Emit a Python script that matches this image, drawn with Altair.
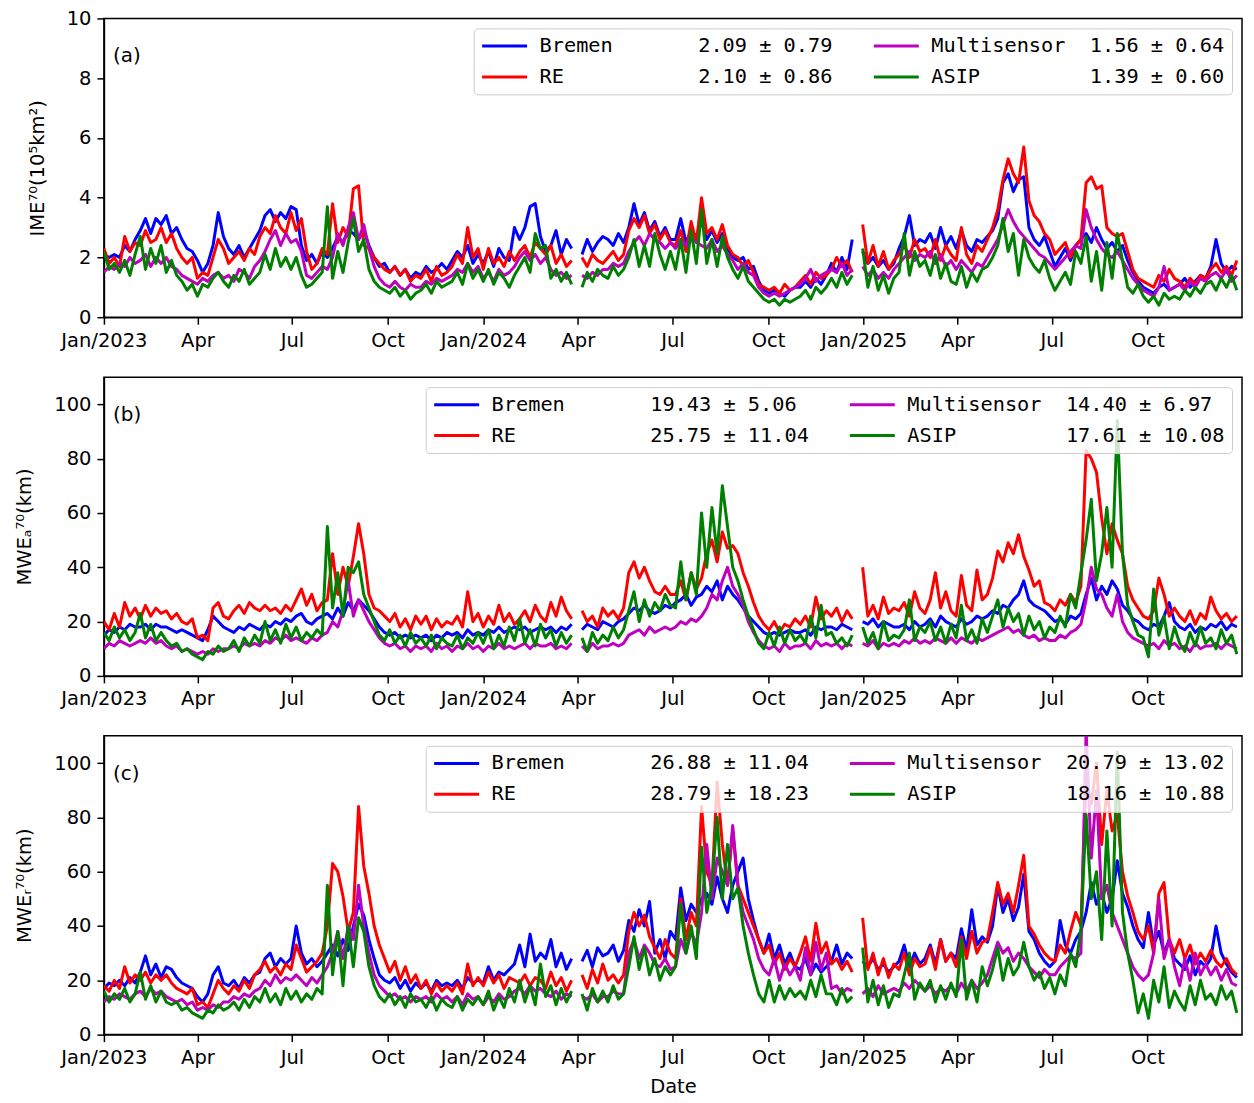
import altair as alt
import pandas as pd

# Series in plotting order (later ones drawn on top); the legend fills column by column
NAMES = ["Bremen", "RE", "Multisensor", "ASIP"]
COLORS = ["#0000ff", "#ff0000", "#bf00bf", "#008000"]

START = "2023-01-01"
STEP = "5D"
X_TICKS = [(2023, 1), (2023, 4), (2023, 7), (2023, 10),
           (2024, 1), (2024, 4), (2024, 7), (2024, 10),
           (2025, 1), (2025, 4), (2025, 7), (2025, 10)]
X_START = (2023, 1, 1)
X_END = (2025, 12, 31)
IME_TICKS = [0, 2, 4, 6, 8, 10]
MWE_TICKS = [0, 20, 40, 60, 80, 100]

# ---------------- IME^70 (10^5 km^2) ----------------
IME_BREMEN = [
    2.1, 2.0, 2.1, 2.0, 2.4, 2.2, 2.6, 2.9, 3.3, 2.8, 3.3, 3.1,
    3.4, 2.8, 3.0, 2.6, 2.3, 2.2, 1.9, 1.5, 1.8, 2.4, 3.5, 2.7,
    2.3, 2.1, 2.4, 2.0, 2.3, 2.6, 2.9, 3.4, 3.6, 3.2, 3.5, 3.3, 3.7,
    3.6, 2.4, 1.9, 2.1, 1.8, 2.2, 2.0, 2.3, 2.7, 2.5, 2.9, 2.8,
    2.6, 2.9, 2.4, 2.0, 1.7, 1.8, 1.5, 1.7, 1.4, 1.6, 1.3, 1.5,
    1.4, 1.7, 1.5, 1.6, 1.8, 1.6, 1.9, 2.2, 2.0, 2.4, 1.8, 2.1,
    1.8, 2.2, 1.7, 2.3, 2.0, 1.9, 3.0, 2.6, 3.0, 3.7, 3.8, 2.7,
    2.2, 2.4, 2.9, 2.1, 2.6, 2.3, None, 2.1, 2.6, 2.2, 2.5, 2.7,
    2.6, 2.4, 2.8, 2.5, 3.0, 3.8, 3.1, 3.5, 2.9, 3.2, 2.7, 3.0, 2.6,
    2.6, 3.3, 2.5, 2.9, 2.7, 3.2, 2.6, 2.9, 2.5, 2.8, 2.3, 2.0,
    1.9, 2.0, 1.6, 1.7, 1.2, 0.9, 0.8, 0.9, 0.8, 0.7, 0.9, 1.0,
    1.0, 1.2, 1.0, 1.3, 1.1, 1.4, 1.8, 1.5, 2.0, 1.6, 2.6, None,
    2.2, 1.8, 2.0, 1.7, 1.9, 1.6, 1.8, 2.3, 2.7, 3.4, 2.4, 2.6,
    2.5, 2.8, 2.3, 3.0, 2.4, 2.7, 2.3, 2.9, 2.4, 2.2, 2.6, 2.5,
    2.7, 2.9, 3.3, 4.5, 4.8, 4.2, 4.6, 4.7, 3.0, 2.6, 2.4, 2.7, 2.2,
    1.7, 2.0, 2.3, 1.9, 2.4, 2.6, 2.8, 2.5, 3.0, 2.6, 2.3, 2.5,
    2.2, 2.4, 1.9, 1.5, 1.2, 1.0, 0.9, 0.8, 1.0, 1.1, 0.9, 1.0,
    1.1, 1.3, 1.0, 1.2, 1.4, 1.3, 1.7, 2.6, 1.8, 1.5, 1.7, 1.6,
]
IME_RE = [
    2.3, 1.8, 2.0, 1.7, 2.7, 2.2, 2.5, 2.4, 2.9, 2.5, 2.6, 3.0,
    2.5, 2.8, 2.3, 2.0, 1.8, 2.0, 1.3, 1.5, 1.4, 2.0, 2.6, 2.3,
    1.8, 2.0, 2.2, 1.9, 2.3, 2.1, 2.7, 3.0, 2.8, 3.4, 3.0, 2.8, 3.5,
    2.9, 3.3, 2.2, 1.6, 1.8, 2.3, 2.1, 3.8, 2.5, 3.0, 2.7, 4.3,
    4.4, 2.4, 2.3, 2.0, 1.8, 1.6, 1.5, 1.7, 1.4, 1.6, 1.2, 1.4,
    1.3, 1.6, 1.2, 1.7, 1.4, 1.5, 1.7, 2.1, 1.8, 3.0, 2.0, 2.3,
    1.6, 2.3, 1.8, 2.0, 1.7, 2.2, 1.9, 2.2, 2.4, 2.0, 2.5, 2.3,
    2.1, 2.4, 1.8, 2.1, 1.7, 1.9, None, 2.0, 1.7, 2.1, 1.9, 1.8,
    2.0, 2.2, 1.9, 2.1, 2.9, 3.3, 3.0, 3.4, 2.8, 3.1, 2.6, 2.9, 2.5,
    2.4, 2.9, 2.2, 3.2, 2.5, 4.0, 2.8, 3.0, 2.6, 3.1, 2.4, 2.1,
    2.0, 1.7, 1.9, 1.5, 1.1, 1.0, 0.9, 1.0, 0.8, 1.1, 0.9, 1.0,
    1.2, 1.4, 1.1, 1.5, 1.3, 1.4, 1.6, 2.0, 1.7, 1.9, 1.5, None,
    3.1, 1.8, 2.4, 1.7, 2.2, 1.6, 1.9, 2.1, 2.4, 2.0, 2.6, 2.2,
    2.3, 2.0, 2.6, 1.9, 2.4, 2.1, 1.9, 3.0, 2.1, 1.8, 2.4, 2.2,
    2.6, 3.0, 3.6, 4.6, 5.3, 4.8, 4.5, 5.7, 3.9, 3.4, 3.2, 2.8, 2.6,
    2.1, 2.3, 2.5, 2.0, 2.4, 2.6, 4.5, 4.7, 4.3, 4.4, 3.0, 2.8,
    2.7, 2.8, 2.2, 1.6, 1.3, 1.2, 1.1, 1.0, 1.4, 1.2, 1.6, 1.3,
    1.2, 1.0, 1.3, 1.1, 1.4, 1.3, 1.6, 1.8, 1.5, 1.7, 1.4, 1.9,
]
IME_MULTI = [
    1.5, 1.7, 1.6, 1.8, 1.7, 2.0, 1.8, 1.9, 2.1, 1.7, 2.0, 1.8,
    2.0, 1.7, 1.6, 1.4, 1.3, 1.2, 1.1, 1.3, 1.2, 1.4, 1.5, 1.3,
    1.4, 1.2, 1.6, 1.5, 1.3, 1.7, 1.9, 2.2, 2.6, 2.9, 2.4, 2.8, 2.5,
    2.6, 2.2, 1.4, 1.3, 1.5, 1.7, 1.6, 2.0, 2.8, 2.4, 3.0, 3.5,
    2.6, 3.1, 2.3, 1.7, 1.3, 1.1, 1.0, 1.2, 1.0, 0.9, 1.1, 1.0,
    1.0, 1.2, 1.1, 1.3, 1.2, 1.3, 1.4, 1.6, 1.5, 1.8, 1.5, 1.7,
    1.3, 1.5, 1.2, 1.6, 1.4, 1.5, 1.7, 2.0, 2.2, 1.9, 2.1, 1.8,
    2.0, 1.6, 1.4, 1.5, 1.3, 1.4, None, 1.4, 1.3, 1.5, 1.4, 1.6,
    1.6, 1.8, 1.7, 1.8, 2.2, 2.5, 2.7, 2.4, 2.8, 2.6, 2.5, 2.3, 2.5,
    2.3, 2.6, 2.4, 2.7, 2.5, 2.4, 2.3, 2.6, 2.2, 2.4, 2.1, 1.9,
    1.6, 1.8, 1.5, 1.4, 1.0, 0.8, 0.7, 0.8, 0.7, 0.8, 0.9, 1.0,
    1.1, 1.3, 1.6, 1.2, 1.4, 1.5, 1.6, 1.5, 1.8, 1.4, 1.6, None,
    1.7, 1.4, 1.6, 1.3, 1.5, 1.3, 1.6, 1.8, 2.0, 2.2, 1.9, 2.1,
    2.0, 2.2, 1.8, 2.1, 1.7, 1.9, 1.6, 1.9, 1.7, 1.5, 1.8, 1.7,
    2.0, 2.3, 2.6, 3.1, 3.6, 3.2, 2.9, 2.7, 2.5, 2.3, 2.1, 2.0, 1.8,
    1.6, 1.8, 2.0, 2.2, 2.4, 2.3, 3.6, 3.0, 2.6, 2.3, 2.1, 2.0,
    2.2, 1.9, 1.6, 1.3, 1.1, 0.9, 0.8, 0.7, 1.0, 1.7, 0.9, 1.0,
    1.1, 0.9, 1.2, 1.0, 1.3, 1.2, 1.4, 1.5, 1.3, 1.6, 1.2, 1.4,
]
IME_ASIP = [
    2.2, 1.6, 1.8, 1.5, 1.9, 1.4, 2.1, 2.7, 1.6, 2.3, 1.8, 2.4,
    1.5, 1.9, 1.4, 1.2, 0.9, 1.1, 0.7, 1.1, 1.0, 1.3, 1.5, 1.2,
    1.0, 1.4, 1.2, 1.6, 1.1, 1.3, 1.5, 2.1, 1.6, 2.3, 1.7, 2.0, 1.6,
    2.0, 1.4, 1.0, 1.1, 1.3, 1.5, 3.7, 1.3, 2.2, 1.5, 2.5, 3.3,
    2.2, 2.6, 1.6, 1.2, 1.0, 0.9, 0.8, 1.0, 0.7, 0.9, 0.6, 0.8,
    0.9, 1.1, 0.8, 1.2, 1.0, 1.1, 1.2, 1.5, 1.1, 1.8, 1.3, 1.6,
    1.2, 1.6, 1.1, 1.5, 1.3, 1.0, 1.4, 1.7, 2.0, 1.5, 2.8, 2.3,
    2.4, 1.3, 1.6, 1.2, 1.5, 1.1, None, 1.0, 1.5, 1.2, 1.6, 1.4,
    1.3, 1.7, 1.4, 1.6, 2.0, 2.6, 1.7, 2.4, 1.7, 2.8, 2.1, 1.6, 2.2,
    1.6, 2.6, 1.5, 2.9, 1.8, 3.6, 1.8, 2.6, 1.7, 2.7, 2.0, 1.6,
    1.3, 1.7, 1.2, 1.0, 0.8, 0.6, 0.5, 0.6, 0.4, 0.6, 0.5, 0.6,
    0.7, 0.9, 0.6, 1.0, 0.8, 1.0, 1.3, 1.0, 1.5, 1.1, 1.4, None,
    2.3, 1.0, 1.7, 0.9, 1.4, 0.8, 1.3, 1.5, 2.8, 1.4, 2.2, 1.7,
    1.9, 1.4, 2.1, 1.3, 1.8, 1.2, 1.1, 1.7, 1.0, 1.5, 1.2, 1.6,
    1.7, 2.0, 2.4, 3.3, 2.2, 2.8, 1.4, 2.6, 2.0, 1.7, 1.5, 1.9, 1.3,
    0.9, 1.2, 1.5, 1.1, 2.2, 1.8, 2.7, 1.2, 2.2, 0.9, 2.5, 1.3,
    2.8, 1.9, 1.0, 0.8, 1.1, 0.7, 0.5, 0.7, 0.4, 0.8, 0.6, 0.7,
    0.6, 0.9, 0.7, 1.0, 0.8, 1.1, 1.2, 0.9, 1.3, 1.0, 1.4, 0.9,
]
IME_MEAN = [2.09, 2.10, 1.56, 1.39]
IME_STD = [0.79, 0.86, 0.64, 0.60]

# ---------------- MWE_a^70 (km) ----------------
MWEA_BREMEN = [
    15, 17, 16, 18, 17, 19, 18, 18, 19, 17, 19, 18,
    18, 17, 16, 17, 16, 15, 14, 13, 17, 22, 20, 18,
    17, 16, 18, 17, 19, 18, 17, 19, 18, 20, 19, 21, 20,
    22, 23, 20, 19, 21, 22, 23, 21, 25, 22, 27, 24,
    28, 26, 24, 21, 18, 16, 15, 16, 14, 15, 14, 15,
    14, 15, 13, 15, 14, 16, 15, 16, 14, 17, 15, 16,
    15, 17, 16, 18, 16, 17, 18, 17, 18, 16, 17, 18,
    17, 18, 16, 18, 17, 19, None, 17, 19, 18, 17, 20,
    19, 18, 20, 21, 23, 25, 24, 26, 24, 23, 24, 26, 25,
    27, 28, 30, 26, 29, 30, 33, 31, 35, 28, 33, 30,
    28, 25, 22, 20, 18, 16, 15, 16, 15, 16, 17, 16,
    16, 17, 15, 18, 17, 18, 18, 17, 19, 18, 17, None,
    20, 19, 21, 18, 20, 19, 18, 18, 19, 17, 20, 18,
    19, 21, 18, 22, 20, 19, 18, 21, 19, 20, 22, 21,
    22, 24, 23, 26, 25, 28, 30, 35, 28, 26, 25, 24, 22,
    20, 21, 19, 22, 21, 23, 30, 36, 28, 33, 30, 35,
    32, 26, 24, 21, 20, 18, 17, 19, 18, 22, 27, 20,
    18, 17, 19, 16, 18, 17, 19, 18, 20, 17, 19, 18,
]
MWEA_RE = [
    20, 17, 23, 18, 27, 22, 25, 21, 26, 22, 25, 23,
    24, 21, 23, 20, 19, 21, 14, 15, 13, 25, 27, 22,
    21, 24, 26, 23, 27, 25, 24, 26, 24, 25, 23, 26, 24,
    28, 32, 26, 30, 24, 27, 28, 45, 30, 40, 33, 44,
    56, 45, 30, 25, 24, 22, 20, 23, 18, 21, 17, 22,
    19, 22, 17, 21, 18, 20, 19, 22, 18, 31, 20, 23,
    18, 22, 19, 26, 20, 23, 19, 21, 24, 20, 26, 22,
    20, 27, 22, 29, 24, 21, None, 24, 20, 22, 18, 25,
    22, 24, 21, 25, 38, 42, 36, 40, 35, 31, 30, 33, 30,
    30, 35, 28, 38, 32, 36, 45, 50, 42, 53, 47, 48,
    45, 38, 33, 27, 22, 19, 17, 20, 16, 19, 18, 21,
    19, 22, 18, 29, 21, 24, 22, 25, 20, 24, 21, None,
    40, 22, 26, 21, 29, 23, 25, 24, 27, 22, 31, 25,
    23, 28, 38, 25, 31, 24, 22, 37, 26, 24, 39, 28,
    30, 36, 46, 42, 49, 45, 52, 44, 39, 33, 35, 27, 26,
    24, 28, 26, 30, 27, 33, 83, 80, 75, 58, 45, 56,
    50, 45, 33, 28, 25, 22, 21, 24, 36, 30, 22, 25,
    22, 20, 24, 19, 23, 21, 29, 24, 21, 23, 20, 22,
]
MWEA_MULTI = [
    10, 12, 11, 13, 12, 11, 12, 13, 12, 14, 12, 13,
    11, 10, 11, 9, 10, 9, 8, 9, 8, 10, 9, 10,
    10, 11, 10, 12, 11, 12, 11, 13, 12, 14, 13, 15, 13,
    14, 13, 12, 14, 13, 15, 16, 20, 18, 24, 35, 22,
    28, 24, 20, 17, 14, 12, 11, 12, 10, 11, 9, 11,
    10, 11, 9, 12, 10, 11, 9, 11, 10, 12, 10, 11,
    9, 11, 10, 12, 10, 11, 10, 11, 12, 10, 12, 11,
    11, 12, 10, 11, 10, 12, None, 11, 9, 12, 10, 11,
    11, 12, 11, 12, 15, 16, 17, 15, 18, 16, 17, 18, 17,
    18, 20, 19, 21, 20, 22, 25, 30, 28, 35, 40, 33,
    30, 26, 20, 16, 13, 11, 10, 11, 9, 12, 10, 11,
    11, 12, 10, 13, 11, 12, 11, 12, 10, 12, 11, None,
    12, 11, 13, 10, 12, 11, 12, 11, 13, 12, 14, 12,
    13, 12, 14, 13, 12, 14, 12, 14, 13, 12, 14, 13,
    14, 15, 16, 17, 18, 16, 17, 15, 14, 15, 13, 14, 13,
    13, 15, 14, 16, 17, 19, 28, 40, 32, 30, 25, 22,
    30, 20, 16, 14, 13, 12, 11, 12, 10, 13, 11, 12,
    10, 11, 9, 12, 10, 11, 11, 12, 10, 12, 11, 10,
]
MWEA_ASIP = [
    16, 13, 18, 14, 17, 13, 16, 23, 14, 19, 13, 16,
    13, 11, 12, 9, 10, 8, 7, 6, 9, 8, 11, 9,
    10, 13, 9, 14, 11, 15, 12, 20, 13, 17, 12, 19, 14,
    18, 13, 16, 14, 17, 15, 55, 25, 38, 22, 40, 38,
    42, 30, 25, 20, 15, 13, 17, 12, 15, 11, 16, 12,
    14, 11, 15, 10, 14, 12, 11, 15, 10, 14, 12, 16,
    12, 17, 10, 15, 11, 18, 13, 21, 12, 17, 11, 19,
    14, 17, 11, 16, 12, 15, None, 14, 9, 16, 12, 15,
    13, 18, 14, 17, 24, 31, 20, 28, 22, 27, 24, 30, 26,
    25, 42, 28, 38, 30, 60, 40, 62, 45, 70, 55, 40,
    35, 28, 22, 17, 12, 10, 16, 11, 18, 12, 17, 13,
    15, 12, 22, 14, 26, 15, 16, 12, 14, 11, 15, None,
    18, 12, 16, 10, 20, 13, 15, 14, 17, 28, 13, 18,
    16, 20, 13, 18, 12, 19, 14, 26, 13, 17, 12, 21,
    16, 22, 28, 18, 25, 20, 23, 15, 22, 17, 20, 14, 18,
    16, 22, 18, 30, 25, 38, 50, 65, 35, 45, 62, 40,
    94, 45, 26, 20, 15, 14, 7, 32, 15, 22, 10, 18,
    12, 9, 16, 11, 18, 12, 14, 10, 17, 12, 15, 8,
]
MWEA_MEAN = [19.43, 25.75, 14.40, 17.61]
MWEA_STD = [5.06, 11.04, 6.97, 10.08]

# ---------------- MWE_r^70 (km) ----------------
MWER_BREMEN = [
    17, 19, 18, 20, 18, 21, 19, 23, 29, 22, 26, 21,
    25, 24, 21, 19, 18, 17, 14, 12, 15, 22, 25, 19,
    18, 20, 17, 21, 19, 22, 23, 28, 30, 25, 28, 26, 28,
    40, 30, 26, 28, 25, 27, 30, 33, 29, 35, 31, 40,
    48, 44, 35, 28, 22, 20, 19, 21, 17, 20, 16, 19,
    17, 19, 16, 20, 18, 19, 18, 20, 17, 21, 19, 20,
    19, 25, 20, 23, 22, 24, 26, 33, 25, 37, 27, 30,
    28, 35, 25, 30, 24, 28, None, 27, 31, 25, 32, 29,
    30, 33, 27, 31, 42, 38, 46, 40, 49, 30, 35, 28, 38,
    35, 54, 42, 48, 45, 50, 52, 48, 58, 50, 45, 55,
    60, 65, 50, 42, 35, 30, 37, 28, 33, 26, 30, 25,
    24, 28, 22, 26, 23, 25, 27, 33, 26, 30, 28, None,
    27, 25, 28, 24, 26, 23, 25, 27, 33, 25, 30, 26,
    28, 33, 26, 35, 27, 30, 28, 39, 31, 46, 33, 36,
    34, 40, 55, 45, 50, 42, 47, 59, 38, 35, 30, 27, 25,
    27, 42, 33, 30, 35, 38, 45, 56, 48, 52, 45, 50,
    64, 52, 47, 40, 35, 32, 45, 33, 38, 30, 35, 28,
    26, 24, 29, 22, 27, 25, 28, 40, 30, 26, 23, 21,
]
MWER_RE = [
    18, 16, 20, 17, 25, 19, 22, 20, 23, 19, 22, 20,
    22, 19, 17, 16, 15, 17, 11, 12, 10, 15, 20, 17,
    15, 18, 16, 20, 17, 22, 24, 27, 23, 25, 22, 26, 24,
    33, 28, 23, 25, 27, 30, 40, 63, 60, 51, 38, 45,
    84, 62, 52, 40, 33, 28, 23, 27, 20, 25, 19, 22,
    17, 20, 15, 19, 16, 18, 16, 19, 15, 26, 18, 21,
    18, 23, 19, 22, 17, 21, 20, 19, 22, 18, 21, 20,
    17, 23, 18, 21, 16, 20, None, 22, 17, 24, 19, 26,
    20, 22, 19, 22, 38, 45, 40, 44, 36, 32, 28, 35, 30,
    28, 50, 35, 45, 40, 84, 60, 55, 93, 70, 55, 75,
    55, 50, 45, 40, 35, 30, 33, 26, 30, 24, 28, 25,
    30, 36, 27, 41, 30, 34, 26, 28, 24, 27, 23, None,
    43, 24, 30, 22, 28, 21, 26, 24, 30, 22, 28, 25,
    26, 32, 24, 35, 27, 30, 25, 36, 28, 38, 30, 34,
    35, 45, 56, 48, 52, 45, 55, 66, 40, 37, 33, 30, 28,
    27, 33, 30, 38, 45, 40, 95, 85, 100, 70, 90, 75,
    81, 60, 51, 45, 38, 35, 40, 30, 52, 56, 35, 30,
    35, 28, 33, 26, 30, 27, 31, 27, 25, 28, 24, 22,
]
MWER_MULTI = [
    12, 14, 13, 15, 14, 13, 15, 16, 14, 17, 15, 16,
    14, 13, 12, 13, 11, 12, 9, 10, 9, 11, 10, 12,
    12, 14, 13, 15, 14, 16, 17, 20, 18, 22, 19, 21, 20,
    22, 20, 18, 21, 19, 22, 25, 30, 38, 28, 40, 35,
    55, 40, 30, 22, 18, 16, 14, 15, 13, 14, 12, 14,
    13, 14, 12, 15, 13, 14, 12, 14, 11, 15, 13, 14,
    11, 14, 12, 15, 13, 14, 16, 17, 15, 18, 16, 17,
    15, 14, 16, 13, 15, 14, None, 14, 13, 15, 12, 14,
    14, 16, 15, 15, 30, 35, 28, 33, 30, 26, 25, 28, 24,
    25, 35, 30, 38, 33, 45, 70, 50, 65, 60, 55, 77,
    55, 45, 40, 35, 28, 24, 22, 28, 20, 26, 22, 25,
    20, 32, 22, 34, 24, 30, 17, 18, 15, 17, 16, None,
    15, 17, 14, 18, 15, 16, 17, 16, 19, 17, 20, 18,
    16, 18, 15, 17, 16, 18, 15, 19, 16, 20, 17, 19,
    22, 28, 34, 30, 32, 27, 30, 28, 25, 23, 21, 24, 22,
    22, 25, 27, 29, 28, 30, 112, 65, 90, 50, 55, 45,
    40, 35, 30, 25, 22, 20, 22, 30, 50, 28, 35, 25,
    18, 28, 20, 30, 22, 26, 22, 25, 20, 24, 19, 18,
]
MWER_ASIP = [
    16, 12, 15, 13, 17, 12, 15, 23, 13, 18, 12, 16,
    12, 11, 12, 9, 10, 8, 7, 6, 9, 8, 11, 9,
    10, 12, 9, 13, 10, 14, 12, 17, 12, 15, 11, 17, 13,
    16, 12, 15, 13, 17, 15, 55, 22, 38, 18, 40, 25,
    43, 38, 25, 18, 14, 12, 15, 11, 14, 10, 15, 12,
    13, 10, 14, 9, 13, 11, 10, 14, 9, 13, 11, 14,
    11, 16, 9, 14, 10, 17, 12, 20, 12, 18, 11, 26,
    14, 18, 11, 17, 12, 16, None, 15, 9, 17, 12, 16,
    12, 18, 13, 15, 25, 36, 24, 32, 22, 28, 20, 25, 22,
    25, 48, 30, 40, 28, 69, 45, 55, 80, 50, 70, 50,
    54, 40, 30, 22, 15, 12, 20, 12, 18, 13, 17, 14,
    16, 13, 20, 14, 22, 15, 15, 11, 17, 12, 14, None,
    32, 12, 20, 11, 18, 10, 15, 14, 22, 30, 13, 19,
    16, 20, 12, 18, 13, 19, 14, 35, 13, 20, 12, 25,
    18, 24, 32, 20, 28, 22, 25, 34, 25, 20, 23, 17, 21,
    15, 22, 18, 30, 25, 39, 81, 50, 60, 35, 75, 40,
    104, 45, 30, 20, 8, 15, 6, 20, 12, 25, 10, 16,
    12, 9, 18, 11, 20, 13, 15, 11, 18, 13, 16, 8,
]
MWER_MEAN = [26.88, 28.79, 20.79, 18.16]
MWER_STD = [11.04, 18.23, 13.02, 10.88]

NBSP = "\u00a0"
FONT = "DejaVu Sans"
MONO = "DejaVu Sans Mono"


def legend_label(name, mean, std):
    # name padded to a fixed width so the statistics line up in a monospace font
    return name + NBSP * (13 - len(name)) + f"{mean:.2f} ± {std:.2f}"


def dt(y, m, d=1):
    return alt.DateTime(year=y, month=m, date=d)


def panel(series, means, stds, y_title, y_max, y_ticks, tag, x_title):
    labels = [legend_label(n, m, s) for n, m, s in zip(NAMES, means, stds)]
    n = len(series[0])
    for s in series:
        assert len(s) == n, (tag, len(s), n)
    dates = pd.date_range(START, periods=n, freq=STEP).strftime("%Y-%m-%dT00:00:00")
    df = pd.concat(
        [pd.DataFrame({"date": dates, "label": lab, "value": vals})
         for lab, vals in zip(labels, series)],
        ignore_index=True,
    )

    color = alt.Color(
        "label:N",
        scale=alt.Scale(domain=labels, range=COLORS),
        legend=alt.Legend(
            title=None, orient="top-right", offset=10, columns=2,
            symbolType="M-1,0L4,0", symbolSize=324, symbolStrokeWidth=3,
            labelFont=MONO, labelFontSize=20.3, labelColor="black",
            labelOffset=38, labelLimit=600, labelBaseline="middle",
            columnPadding=34, rowPadding=10, padding=7,
            fillColor="rgba(255,255,255,0.8)", strokeColor="#cccccc",
            cornerRadius=4,
        ),
    )
    x = alt.X(
        "date:T",
        scale=alt.Scale(domain=[dt(*X_START), dt(*X_END)], nice=False),
        axis=alt.Axis(
            values=[dt(y, m) for y, m in X_TICKS],
            labelExpr="month(datum.value) == 0 ? timeFormat(datum.value, '%b/%Y') : timeFormat(datum.value, '%b')",
            title=x_title, grid=False, labelFlush=False, labelOverlap=False,
            tickSize=7, tickWidth=1.5, tickColor="black",
            domainColor="black", domainWidth=1.5,
            labelFontSize=19.5, labelColor="black", labelPadding=7, labelFont=FONT,
            titleFontSize=19.5, titleFontWeight="normal", titleColor="black",
            titleFont=FONT, titlePadding=10,
        ),
    )
    y = alt.Y(
        "value:Q",
        scale=alt.Scale(domain=[0, y_max], nice=False),
        axis=alt.Axis(
            values=y_ticks, title=y_title, grid=False,
            tickSize=7, tickWidth=1.5, tickColor="black",
            domainColor="black", domainWidth=1.5,
            labelFontSize=19.5, labelColor="black", labelPadding=6, labelFont=FONT,
            titleFontSize=19.5, titleFontWeight="normal", titleColor="black",
            titleFont=FONT, titlePadding=19,
        ),
    )

    layers = []
    for lab in labels:
        layers.append(
            alt.Chart(df)
            .transform_filter(alt.datum.label == lab)
            .mark_line(strokeWidth=3, clip=True, strokeJoin="round",
                       invalid="break-paths-show-domains")
            .encode(x=x, y=y, color=color)
        )
    tag_text = (
        alt.Chart(pd.DataFrame({"tag": [tag]}))
        .mark_text(align="left", baseline="middle", fontSize=20, font=FONT, color="black")
        .encode(text="tag:N", x=alt.value(9), y=alt.value(38))
    )
    return alt.layer(*layers, tag_text).properties(width=1139, height=299)


top = panel([IME_BREMEN, IME_RE, IME_MULTI, IME_ASIP], IME_MEAN, IME_STD,
            "IME⁷⁰(10⁵km²)", 10, IME_TICKS, "(a)", None)
mid = panel([MWEA_BREMEN, MWEA_RE, MWEA_MULTI, MWEA_ASIP], MWEA_MEAN, MWEA_STD,
            "MWEₐ⁷⁰(km)", 110, MWE_TICKS, "(b)", None)
bot = panel([MWER_BREMEN, MWER_RE, MWER_MULTI, MWER_ASIP], MWER_MEAN, MWER_STD,
            "MWEᵣ⁷⁰(km)", 110, MWE_TICKS, "(c)", "Date")

chart = (
    alt.vconcat(top, mid, bot, spacing=60, bounds="flush")
    .resolve_scale(color="independent")
    .resolve_legend(color="independent")
    .properties(padding={"left": 14, "top": 7, "right": 11, "bottom": 5},
                background="white")
    .configure(font=FONT)
    .configure_view(stroke="black", strokeWidth=1.5)
)

chart.save("out.html", embed_options={"renderer": "svg", "actions": False})
